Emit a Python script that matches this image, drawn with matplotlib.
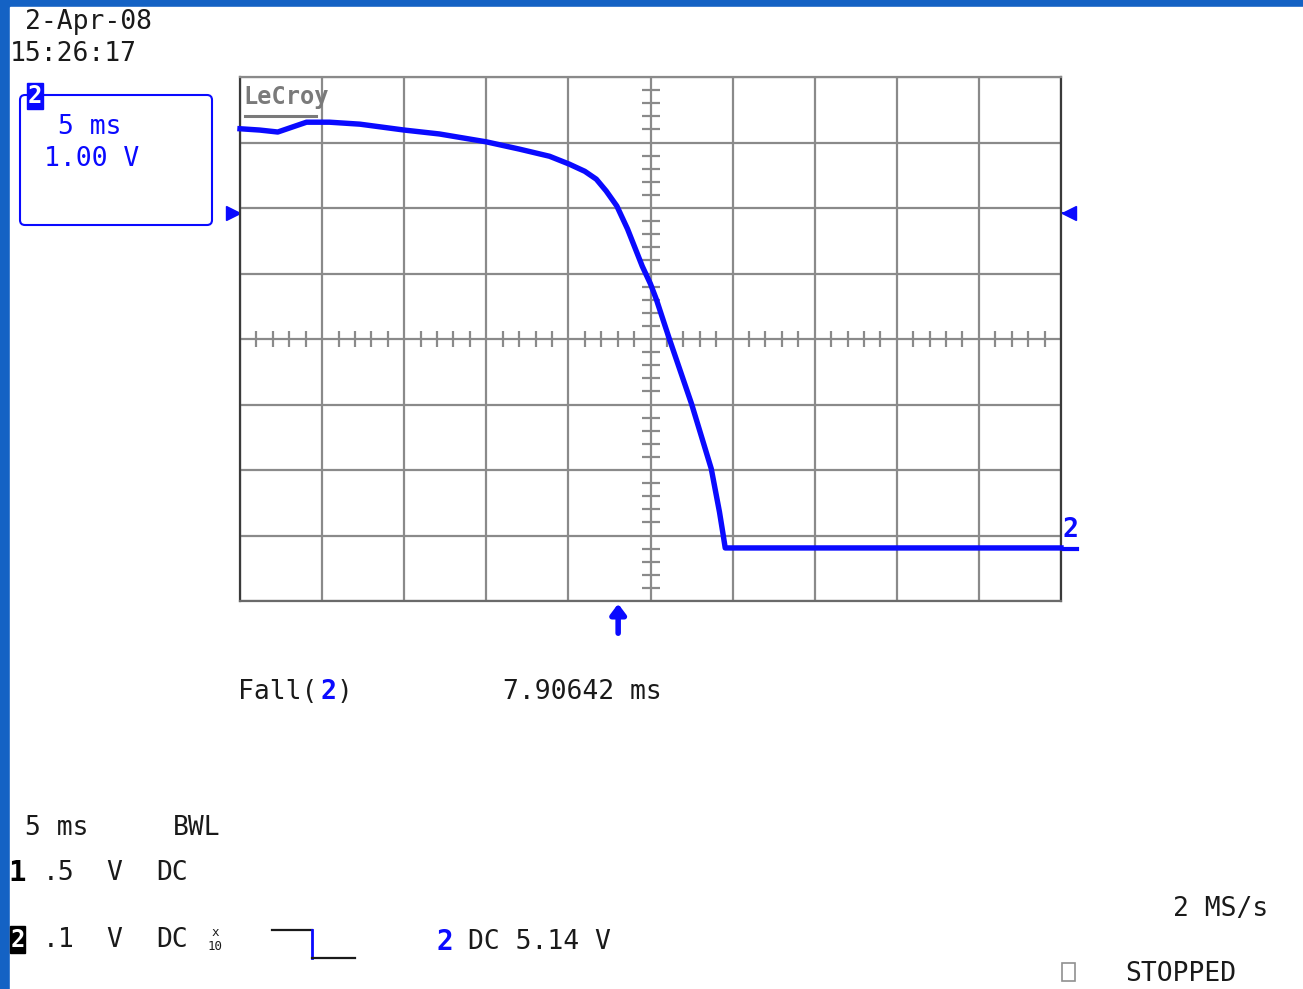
import numpy as np
import matplotlib
matplotlib.use("Agg")
import matplotlib.pyplot as plt
from matplotlib.patches import Rectangle, FancyBboxPatch

# trace of channel 2 (time in ms, level in divisions of 1.00 V)
t_ms = [-25.0, -23.8, -22.7, -22.0, -20.95, -19.55, -17.7, -15.0, -12.85, -10.0,
        -8.0, -6.15, -4.95, -4.0, -3.3, -2.7, -2.05, -1.4, -0.5, 0.0,
        0.35, 1.15, 2.5, 3.7, 4.2, 4.4, 4.55, 5.4, 25.0]
v_div = [3.21, 3.19, 3.16, 3.22, 3.31, 3.31, 3.28, 3.19, 3.13, 3.01,
         2.90, 2.79, 2.67, 2.56, 2.44, 2.26, 2.03, 1.68, 1.11, 0.84,
         0.61, 0.0, -0.99, -1.98, -2.64, -2.95, -3.19, -3.19, -3.19]

date_txt = "2-Apr-08"
time_txt = "15:26:17"
timebase = "5 ms"
volts_div = "1.00 V"
fall_txt = "7.90642 ms"
trig_level = "DC 5.14 V"
sample_rate = "2 MS/s"
status = "STOPPED"
trig_pos_ms = -2.0
ch2_offset = 1.94

BLUE = "#0a0aff"
INK = "#1a1a1a"
MONO = "DejaVu Sans Mono"

W, H = 1303, 989
fig = plt.figure(figsize=(W / 100, H / 100), dpi=100)
fig.patch.set_facecolor("#1462c4")

# white screen area
bg = fig.add_axes([0, 0, 1, 1])
bg.set_xlim(0, W)
bg.set_ylim(H, 0)
bg.axis("off")
bg.add_patch(Rectangle((10, 7), W, H, color="white", zorder=0))

# scope grid
ax = fig.add_axes([240 / W, 1 - 601 / H, 821 / W, 524 / H])
ax.set_xlim(-25, 25)
ax.set_ylim(-4, 4)
ax.set_xticks(np.arange(-25, 26, 5))
ax.set_yticks(np.arange(-4, 5, 1))
ax.grid(True, color="#8a8a8a", lw=1.6)
ax.tick_params(length=0, labelbottom=False, labelleft=False)
for s in ax.spines.values():
    s.set_color("#3a3a3a")
    s.set_linewidth(1.6)
ax.spines["top"].set_color("#8a8a8a")
ax.spines["bottom"].set_color("#6a6a6a")
ax.set_facecolor("white")

# centre-line minor ticks
mx = np.arange(-25, 25.01, 1.0)
mx = mx[np.abs(mx % 5) > 0.01]
ax.plot(mx, np.zeros_like(mx), ls="none", marker="|", ms=12, mew=1.6, color="#8a8a8a")
my = np.arange(-4, 4.01, 0.2)
my = my[np.abs(np.round(my, 3) % 1) > 0.01]
ax.plot(np.zeros_like(my), my, ls="none", marker="_", ms=13, mew=1.6, color="#8a8a8a")

ax.plot(t_ms, v_div, color=BLUE, lw=3.9, solid_joinstyle="round", zorder=5, clip_on=False)

# LeCroy logo
ax.text(0.004, 0.985, "LeCroy", transform=ax.transAxes, ha="left", va="top",
        family=MONO, fontsize=17, fontweight="bold", color="#7a7a7a")
ax.plot([0.006, 0.092], [0.926, 0.926], transform=ax.transAxes, color="#7a7a7a", lw=2.2)

# overlay text in pixel coordinates
def txt(x, y, s, size=19, color=INK, weight="normal", ha="left"):
    bg.text(x, y, s, ha=ha, va="center", family=MONO, fontsize=size,
            color=color, fontweight=weight, zorder=10)

txt(25, 22, date_txt)
txt(10, 54, time_txt)

bg.add_patch(FancyBboxPatch((20, 95), 192, 130, boxstyle="round,pad=0,rounding_size=5",
                            fc="none", ec=BLUE, lw=1.5, zorder=6))
bg.add_patch(Rectangle((27, 83), 16, 26, color=BLUE, zorder=7))
txt(35, 96, "2", size=17, color="white", weight="bold", ha="center")
txt(58, 127, timebase, color=BLUE)
txt(44, 159, volts_div, color=BLUE)

# channel offset markers
y_off = 340 - ch2_offset * 65.5
bg.plot([233], [y_off], marker=">", ms=10, color=BLUE, zorder=7)
bg.plot([228, 240], [y_off, y_off], color=BLUE, lw=1.5, zorder=7)
bg.plot([1069], [y_off], marker="<", ms=10, color=BLUE, zorder=7)
bg.plot([1061, 1074], [y_off, y_off], color=BLUE, lw=1.5, zorder=7)

# right channel label
txt(1070, 530, "2", size=19, color=BLUE, weight="bold", ha="center")
bg.plot([1061, 1077], [549, 549], color=BLUE, lw=3, zorder=7)

# trigger arrow
x_trig = 651 + trig_pos_ms / 5 * 82.1
bg.annotate("", xy=(x_trig, 601), xytext=(x_trig, 636),
            arrowprops=dict(arrowstyle="-|>,head_width=0.45,head_length=0.6",
                            lw=4, color=BLUE), zorder=7)

# measurement
txt(238, 692, "Fall(")
txt(321, 692, "2", color=BLUE, weight="bold")
txt(337, 692, ")")
txt(503, 692, fall_txt)

# bottom status lines
txt(25, 828, "5 ms")
txt(173, 828, "BWL")
txt(8, 873, "1", size=21, weight="bold", color="black")
txt(43, 873, ".5")
txt(106, 873, "V")
txt(156, 873, "DC")
bg.add_patch(Rectangle((10, 926), 15, 27, color="black", zorder=7))
txt(17.5, 940, "2", size=17, color="white", weight="bold", ha="center")
txt(43, 940, ".1")
txt(106, 940, "V")
txt(156, 940, "DC")
txt(215, 933, "x", size=9, ha="center")
txt(215, 946, "10", size=9, ha="center")
bg.plot([272, 312], [930, 930], color=INK, lw=1.6, zorder=7)
bg.plot([312, 312], [930, 958], color=BLUE, lw=2, zorder=7)
bg.plot([312, 355], [958, 958], color=INK, lw=1.6, zorder=7)
txt(436, 942, "2", size=20, color=BLUE, weight="bold")
txt(468, 942, trig_level)

txt(1173, 909, sample_rate)
bg.add_patch(Rectangle((1062, 963), 13, 18, fc="none", ec="#909090", lw=1.2, zorder=7))
txt(1125, 974, status)

fig.savefig("out.png", dpi=100)
